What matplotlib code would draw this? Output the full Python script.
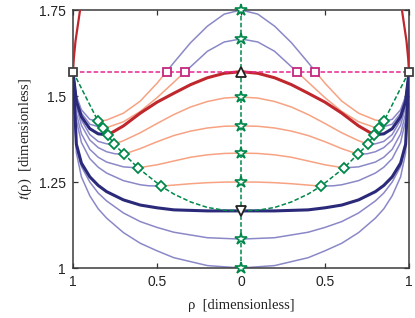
import numpy as np
import matplotlib.pyplot as plt

plt.rcParams['mathtext.fontset'] = 'stix'

HALF_PI = np.pi / 2

# right half (rho >= 0) of every t(rho) curve; the left half is the mirror image
rho_a = [0, 0.1, 0.2, 0.3, 0.4, 0.443, 0.5, 0.6, 0.7, 0.8, 0.851, 0.9, 0.95, 0.98, 1.0]
t_a = [1.750, 1.738, 1.703, 1.655, 1.597, HALF_PI, 1.537, 1.485, 1.450, 1.430, 1.427, 1.432, 1.46, 1.50, HALF_PI]

rho_b = [0, 0.1, 0.2, 0.3, 0.333, 0.4, 0.5, 0.6, 0.7, 0.8, 0.821, 0.9, 0.95, 0.98, 1.0]
t_b = [1.666, 1.657, 1.630, 1.585, HALF_PI, 1.540, 1.495, 1.455, 1.425, 1.408, 1.407, 1.418, 1.45, 1.495, HALF_PI]

rho_c = [0, 0.1, 0.2, 0.3, 0.4, 0.5, 0.6, 0.7, 0.792, 0.85, 0.9, 0.95, 0.98, 1.0]
t_c = [HALF_PI, 1.566, 1.553, 1.533, 1.508, 1.482, 1.450, 1.413, 1.387, 1.390, 1.405, 1.44, 1.485, HALF_PI]

rho_d = [0, 0.1, 0.2, 0.3, 0.4, 0.5, 0.6, 0.7, 0.756, 0.8, 0.85, 0.9, 0.95, 0.98, 1.0]
t_d = [1.497, 1.494, 1.484, 1.468, 1.446, 1.420, 1.393, 1.370, 1.360, 1.361, 1.368, 1.388, 1.43, 1.48, HALF_PI]

rho_e = [0, 0.1, 0.2, 0.3, 0.4, 0.5, 0.6, 0.696, 0.75, 0.8, 0.85, 0.9, 0.95, 0.98, 1.0]
t_e = [1.413, 1.412, 1.407, 1.398, 1.385, 1.367, 1.347, 1.331, 1.332, 1.338, 1.350, 1.372, 1.415, 1.47, HALF_PI]

rho_f = [0, 0.1, 0.2, 0.3, 0.4, 0.5, 0.613, 0.7, 0.8, 0.85, 0.9, 0.95, 0.98, 1.0]
t_f = [1.334, 1.333, 1.329, 1.322, 1.311, 1.300, 1.291, 1.294, 1.308, 1.322, 1.345, 1.39, 1.45, HALF_PI]

rho_g = [0, 0.1, 0.2, 0.3, 0.4, 0.476, 0.55, 0.6, 0.7, 0.8, 0.85, 0.9, 0.95, 0.98, 1.0]
t_g = [1.250, 1.2497, 1.248, 1.245, 1.241, 1.238, 1.239, 1.242, 1.254, 1.276, 1.293, 1.318, 1.365, 1.43, HALF_PI]

rho_h = [0, 0.2, 0.4, 0.5, 0.6, 0.7, 0.8, 0.85, 0.9, 0.95, 0.98, 1.0]
t_h = [1.166, 1.166, 1.169, 1.175, 1.183, 1.198, 1.222, 1.240, 1.265, 1.305, 1.36, HALF_PI]

rho_i = [0, 0.2, 0.4, 0.5, 0.6, 0.7, 0.8, 0.85, 0.9, 0.95, 0.98, 1.0]
t_i = [1.084, 1.088, 1.104, 1.118, 1.135, 1.160, 1.195, 1.218, 1.250, 1.295, 1.35, HALF_PI]

rho_j = [0, 0.2, 0.4, 0.5, 0.6, 0.7, 0.8, 0.85, 0.9, 0.95, 0.98, 1.0]
t_j = [1.0, 1.007, 1.030, 1.050, 1.072, 1.103, 1.145, 1.172, 1.210, 1.265, 1.335, HALF_PI]

# steep branch leaving the corners
rho_edge = [1.0, 0.995, 0.985, 0.97, 0.955]
t_edge = [HALF_PI, 1.61, 1.66, 1.71, 1.76]

# where the upper curves cross t = pi/2, and the locus of minima
rho_cross = [0.333, 0.443]
rho_min = [0.851, 0.821, 0.792, 0.756, 0.696, 0.613, 0.476]
t_min = [1.427, 1.407, 1.387, 1.360, 1.331, 1.291, 1.238]
rho_locus = [0, 0.1, 0.2, 0.3, 0.4, 0.476, 0.613, 0.696, 0.756, 0.792, 0.821, 0.851, 1.0]
t_locus = [1.166, 1.168, 1.176, 1.192, 1.215, 1.238, 1.291, 1.331, 1.360, 1.387, 1.407, 1.427, HALF_PI]

t_centre = [1.75, 1.666, 1.497, 1.413, 1.334, 1.25, 1.084, 1.0]
t_up_tri = HALF_PI
t_down_tri = 1.166

lav = '#8b88c8'
salmon = '#f7a282'
red = '#c0272d'
navy = '#2b2979'
green = '#00884a'
magenta = '#e8238f'

fig = plt.figure(figsize=(4.15, 3.18), dpi=100)
ax = fig.add_axes([73 / 415, 1 - 268 / 318, 336 / 415, 258 / 318])


def draw_half(r, t, lo, hi, color, lw, z):
    r = np.asarray(r)
    t = np.asarray(t)
    m = (r >= lo - 1e-9) & (r <= hi + 1e-9)
    for s in (1, -1):
        ax.plot(s * r[m], t[m], color=color, lw=lw, zorder=z, solid_capstyle='round')


# (rho, t, crossing of pi/2 (0 if none), rho of minimum, thick)
curves = [
    (rho_a, t_a, 0.443, 0.851, False),
    (rho_b, t_b, 0.333, 0.821, False),
    (rho_c, t_c, 0.0, 0.792, True),
    (rho_d, t_d, 0.0, 0.756, False),
    (rho_e, t_e, 0.0, 0.696, False),
    (rho_f, t_f, 0.0, 0.613, False),
    (rho_g, t_g, 0.0, 0.476, False),
]
for r, t, cr, mn, thick in curves:
    lw = 2.2 if thick else 1.1
    z = 3 if thick else 2
    if cr > 0:
        draw_half(r, t, 0, cr, lav, lw, z)
    draw_half(r, t, cr, mn, red if thick else salmon, lw, z)
    draw_half(r, t, mn, 1.0, navy if thick else lav, lw, z)

draw_half(rho_h, t_h, 0, 1, navy, 2.2, 3)
draw_half(rho_i, t_i, 0, 1, lav, 1.1, 2)
draw_half(rho_j, t_j, 0, 1, lav, 1.1, 2)
draw_half(rho_edge, t_edge, 0, 1, red, 1.6, 3)

# locus of minima and the rho = 0 line
for s in (1, -1):
    ax.plot(s * np.asarray(rho_locus), t_locus, color=green, lw=1.1,
            ls=(0, (3, 1.5)), zorder=4)
ax.plot([0, 0], [1.0, 1.75], color=green, lw=1.1, ls=(0, (3, 1.5)), zorder=4)
ax.plot([-1, 1], [HALF_PI, HALF_PI], color=magenta, lw=1.1, ls=(0, (3, 1.5)), zorder=4)

ax.plot([-x for x in rho_min] + rho_min, t_min + t_min, ls='none', marker='D', ms=5.5,
        mfc='white', mec=green, mew=1.3, zorder=5)
ax.plot(np.zeros(len(t_centre)), t_centre, ls='none', marker='*', ms=9,
        mfc='white', mec=green, mew=1.2, zorder=5, clip_on=False)
ax.plot([-x for x in rho_cross] + rho_cross, [HALF_PI] * 4, ls='none', marker='s', ms=5.5,
        mfc='white', mec='#c5287f', mew=1.3, zorder=5)
ax.plot([-1, 1], [HALF_PI, HALF_PI], ls='none', marker='s', ms=6,
        mfc='white', mec='#404040', mew=1.3, zorder=6, clip_on=False)
ax.plot([0], [t_up_tri], ls='none', marker='^', ms=7, mfc='white', mec='#222222',
        mew=1.3, zorder=6)
ax.plot([0], [t_down_tri], ls='none', marker='v', ms=7, mfc='white', mec='#222222',
        mew=1.3, zorder=6)

ax.set_xlim(-1, 1)
ax.set_ylim(1, 1.75)
ax.set_xticks([-1, -0.5, 0, 0.5, 1])
ax.set_xticklabels(['1', '0.5', '0', '0.5', '1'])
ax.set_yticks([1, 1.25, 1.5, 1.75])
ax.set_yticklabels(['1', '1.25', '1.5', '1.75'])
ax.tick_params(direction='in', length=3.5, width=0.9, top=True, right=True,
               labelsize=10, color='#333333', pad=5)
for lab in ax.get_xticklabels() + ax.get_yticklabels():
    lab.set_fontfamily('Liberation Sans')
    lab.set_color('#222222')
for sp in ax.spines.values():
    sp.set_color('#3a3a3a')
    sp.set_linewidth(1.1)

ax.set_xlabel('ρ  [dimensionless]', fontfamily='Liberation Serif', fontsize=10.5,
              color='#222222', labelpad=7)
ax.set_ylabel(r'$t$(ρ)  [dimensionless]', fontfamily='Liberation Serif', fontsize=10.5,
              color='#222222', labelpad=4)

fig.savefig('out.png', dpi=100)
